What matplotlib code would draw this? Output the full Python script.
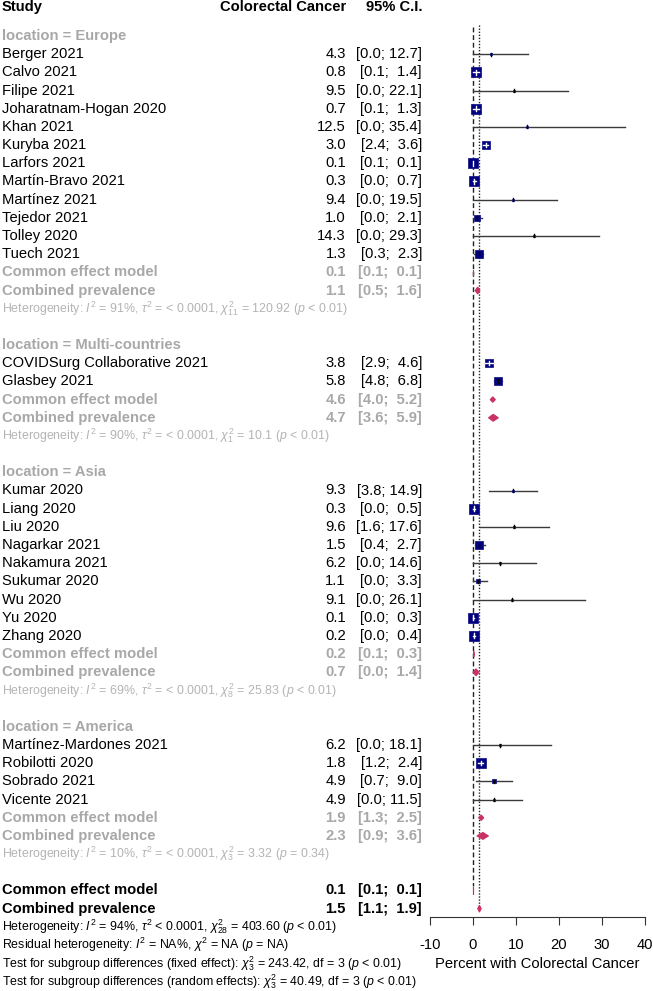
import matplotlib.pyplot as plt
import matplotlib.transforms as mtransforms
from matplotlib.patches import Polygon

plt.rcParams['font.family'] = ['Liberation Sans', 'DejaVu Sans']
plt.rcParams['mathtext.fontset'] = 'custom'
plt.rcParams['mathtext.rm'] = 'Liberation Sans'
plt.rcParams['mathtext.it'] = 'Liberation Sans:italic'
plt.rcParams['mathtext.bf'] = 'Liberation Sans:bold'
plt.rcParams['axes.unicode_minus'] = False

# === Study-level data ===
regions = ['Europe', 'Multi-countries', 'Asia', 'America']
study_region = ['Europe'] * 12 + ['Multi-countries'] * 2 + ['Asia'] * 9 + ['America'] * 4
studies = ['Berger 2021', 'Calvo 2021', 'Filipe 2021', 'Joharatnam-Hogan 2020', 'Khan 2021',
           'Kuryba 2021', 'Larfors 2021', 'Martín-Bravo 2021', 'Martínez 2021', 'Tejedor 2021',
           'Tolley 2020', 'Tuech 2021',
           'COVIDSurg Collaborative 2021', 'Glasbey 2021',
           'Kumar 2020', 'Liang 2020', 'Liu 2020', 'Nagarkar 2021', 'Nakamura 2021',
           'Sukumar 2020', 'Wu 2020', 'Yu 2020', 'Zhang 2020',
           'Martínez-Mardones 2021', 'Robilotti 2020', 'Sobrado 2021', 'Vicente 2021']
est = [4.3, 0.8, 9.5, 0.7, 12.5, 3.0, 0.1, 0.3, 9.4, 1.0, 14.3, 1.3,
       3.8, 5.8,
       9.3, 0.3, 9.6, 1.5, 6.2, 1.1, 9.1, 0.1, 0.2,
       6.2, 1.8, 4.9, 4.9]
lower = [0.0, 0.1, 0.0, 0.1, 0.0, 2.4, 0.1, 0.0, 0.0, 0.0, 0.0, 0.3,
         2.9, 4.8,
         3.8, 0.0, 1.6, 0.4, 0.0, 0.0, 0.0, 0.0, 0.0,
         0.0, 1.2, 0.7, 0.0]
upper = [12.7, 1.4, 22.1, 1.3, 35.4, 3.6, 0.1, 0.7, 19.5, 2.1, 29.3, 2.3,
         4.6, 6.8,
         14.9, 0.5, 17.6, 2.7, 14.6, 3.3, 26.1, 0.3, 0.4,
         18.1, 2.4, 9.0, 11.5]
# relative study weight (sets the box size)
box_weight = [3, 78, 3, 72, 3, 57, 95, 72, 3, 40, 3, 50,
              57, 53,
              7, 72, 5, 44, 3, 20, 3, 83, 83,
              3, 67, 13, 3]

# === Subgroup summaries ===
common_est = [0.1, 4.6, 0.2, 1.9]
common_lo = [0.1, 4.0, 0.1, 1.3]
common_hi = [0.1, 5.2, 0.3, 2.5]
random_est = [1.1, 4.7, 0.7, 2.3]
random_lo = [0.5, 3.6, 0.0, 0.9]
random_hi = [1.6, 5.9, 1.4, 3.6]
het_text = [
    r'Heterogeneity: $I^2$ = 91%, $\tau^2$ = < 0.0001, $\chi^2_{11}$ = 120.92 ($p$ < 0.01)',
    r'Heterogeneity: $I^2$ = 90%, $\tau^2$ = < 0.0001, $\chi^2_{1}$ = 10.1 ($p$ < 0.01)',
    r'Heterogeneity: $I^2$ = 69%, $\tau^2$ = < 0.0001, $\chi^2_{8}$ = 25.83 ($p$ < 0.01)',
    r'Heterogeneity: $I^2$ = 10%, $\tau^2$ = < 0.0001, $\chi^2_{3}$ = 3.32 ($p$ = 0.34)',
]

# === Overall ===
overall_common = [0.1, 0.1, 0.1]
overall_random = [1.5, 1.1, 1.9]
footer_text = [
    r'Heterogeneity: $I^2$ = 94%, $\tau^2$ < 0.0001, $\chi^2_{28}$ = 403.60 ($p$ < 0.01)',
    r'Residual heterogeneity: $I^2$ = NA%, $\chi^2$ = NA ($p$ = NA)',
    r'Test for subgroup differences (fixed effect): $\chi^2_{3}$ = 243.42, df = 3 ($p$ < 0.01)',
    r'Test for subgroup differences (random effects): $\chi^2_{3}$ = 40.49, df = 3 ($p$ < 0.01)',
]

# === Layout (pixels) ===
W, H = 653, 991
ROW0, ROWH = 36, 18.18
PX_PER_UNIT = 215 / 50
X_STUDY, X_EST, X_CI = 2, 346, 422
FS, FS_SMALL = 10.6, 8.9
NAVY = '#000080'
DIAMOND = '#C83264'
GREY = '#A8A8A8'
GREY_HET = '#B4B4B4'

fig = plt.figure(figsize=(W / 100, H / 100), dpi=100)
ax = fig.add_axes([430 / W, 0, 215 / W, 1])
ax.set_xlim(-10, 40)
ax.set_ylim((H - ROW0) / ROWH, -ROW0 / ROWH)
ax.axis('off')
trans = mtransforms.blended_transform_factory(fig.transFigure, ax.transData)


def put(xpx, row, s, ha='left', **kw):
    ax.text(xpx / W, row, s, transform=trans, ha=ha, va='center', clip_on=False, **kw)


def ci_str(lo, hi):
    return f'[{lo:.1f}; {hi:4.1f}]'


def diamond(e, lo, hi, row, h=0.19):
    ax.add_patch(Polygon([(lo, row), (e, row - h), (hi, row), (e, row + h)], closed=True,
                         facecolor=DIAMOND, edgecolor=DIAMOND, lw=0.8, clip_on=False, zorder=4))


# header
put(X_STUDY, -1.6, 'Study', fontsize=FS, fontweight='bold')
put(X_EST, -1.6, 'Colorectal Cancer', ha='right', fontsize=FS, fontweight='bold')
put(X_CI, -1.6, '95% C.I.', ha='right', fontsize=FS, fontweight='bold')

row = 0
for g, reg in enumerate(regions):
    put(X_STUDY, row, f'location = {reg}', fontsize=FS, fontweight='bold', color=GREY)
    row += 1
    for i, name in enumerate(studies):
        if study_region[i] != reg:
            continue
        e, lo, hi = est[i], lower[i], upper[i]
        put(X_STUDY, row, name, fontsize=FS)
        put(X_EST, row, f'{e:.1f}', ha='right', fontsize=FS)
        put(X_CI, row, ci_str(lo, hi), ha='right', fontsize=FS)

        side = 11 * (box_weight[i] / 100) ** 0.5  # px
        half = side / 2 / PX_PER_UNIT
        inside = (lo >= e - half) and (hi <= e + half) and side > 4
        ax.plot([lo, hi], [row, row], color='#3a3a3a', lw=1.0, zorder=2, clip_on=False)
        ax.plot([e], [row], marker='s', ms=side * 0.72, mfc=NAVY, mec='#1c1c8a',
                mew=0.6, zorder=3, clip_on=False)
        c = 'white' if inside else 'black'
        if inside:
            ax.plot([lo, hi], [row, row], color=c, lw=1.0, zorder=4, clip_on=False)
        tick = max(side * 0.5, 3) / ROWH / 2
        ax.plot([e, e], [row - tick, row + tick], color=c, lw=1.0, zorder=4, clip_on=False)
        row += 1

    put(X_STUDY, row, 'Common effect model', fontsize=FS, fontweight='bold', color=GREY)
    put(X_EST, row, f'{common_est[g]:.1f}', ha='right', fontsize=FS, fontweight='bold', color=GREY)
    put(X_CI, row, ci_str(common_lo[g], common_hi[g]), ha='right', fontsize=FS,
        fontweight='bold', color=GREY)
    diamond(common_est[g], common_lo[g], common_hi[g], row, h=0.15)
    row += 1
    put(X_STUDY, row, 'Combined prevalence', fontsize=FS, fontweight='bold', color=GREY)
    put(X_EST, row, f'{random_est[g]:.1f}', ha='right', fontsize=FS, fontweight='bold', color=GREY)
    put(X_CI, row, ci_str(random_lo[g], random_hi[g]), ha='right', fontsize=FS,
        fontweight='bold', color=GREY)
    diamond(random_est[g], random_lo[g], random_hi[g], row)
    row += 1
    put(X_STUDY, row, het_text[g], fontsize=FS_SMALL, color=GREY_HET)
    row += 2

# overall
row_common = row
put(X_STUDY, row, 'Common effect model', fontsize=FS, fontweight='bold')
put(X_EST, row, f'{overall_common[0]:.1f}', ha='right', fontsize=FS, fontweight='bold')
put(X_CI, row, ci_str(overall_common[1], overall_common[2]), ha='right', fontsize=FS,
    fontweight='bold')
diamond(*overall_common, row, h=0.2)
row += 1
row_random = row
put(X_STUDY, row, 'Combined prevalence', fontsize=FS, fontweight='bold')
put(X_EST, row, f'{overall_random[0]:.1f}', ha='right', fontsize=FS, fontweight='bold')
put(X_CI, row, ci_str(overall_random[1], overall_random[2]), ha='right', fontsize=FS,
    fontweight='bold')
diamond(*overall_random, row)
row += 1
for s in footer_text:
    put(X_STUDY, row, s, fontsize=FS_SMALL)
    row += 1

# reference lines
ax.plot([overall_common[0]] * 2, [-0.5, row_common - 0.25], color='#222222', lw=1.0,
        ls=(0, (3.5, 2)), zorder=1, clip_on=False)
ax.plot([overall_random[0]] * 2, [-0.6, row_random - 0.25], color='#222222', lw=1.0,
        ls=(0, (1, 1.2)), zorder=1, clip_on=False)

# === x scale ===
axs = fig.add_axes([430 / W, (H - 917) / H, 215 / W, 1e-4])
axs.set_xlim(-10, 40)
axs.set_xticks(range(-10, 41, 10))
axs.set_yticks([])
for sp in ['top', 'left', 'right']:
    axs.spines[sp].set_visible(False)
axs.spines['bottom'].set_color('#333333')
axs.patch.set_visible(False)
axs.tick_params(axis='x', direction='out', length=5.8, width=0.8, colors='#333333',
                labelsize=FS, labelcolor='black', pad=9)
axs.set_xlabel('Percent with Colorectal Cancer', fontsize=FS, labelpad=4)

plt.savefig('out.png', dpi=100)
plt.close()
